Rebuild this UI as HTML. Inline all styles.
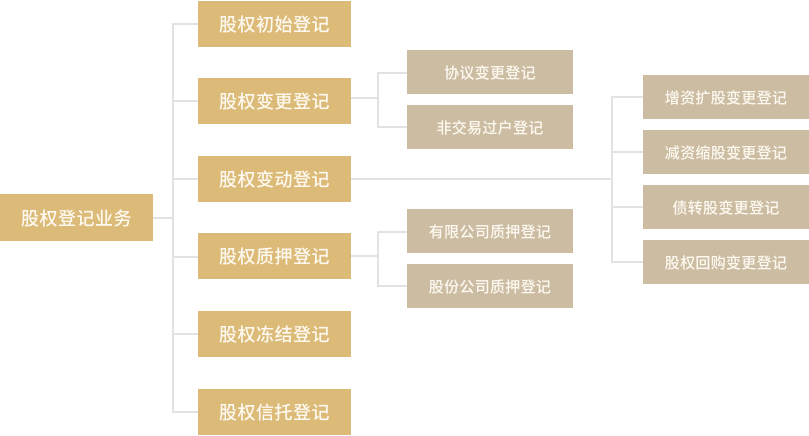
<!DOCTYPE html>
<html><head><meta charset="utf-8"><style>
body{margin:0;width:809px;height:436px;background:#fff;position:relative;overflow:hidden;font-family:"Liberation Sans","Noto Sans CJK SC",sans-serif}
.b{position:absolute;display:flex;align-items:center;justify-content:center;color:#fdf9f0;font-weight:500}
.g{background:#dcba77;font-size:18px;letter-spacing:0.5px}
.t{background:#cbbca2;font-size:15px;letter-spacing:0.3px}
.l{position:absolute;background:#e2e2e2}
</style></head><body>
<div class="l" style="left:40px;top:217px;width:133px;height:2px"></div>
<div class="l" style="left:172px;top:24px;width:2px;height:389px"></div>
<div class="l" style="left:172px;top:23px;width:26px;height:2px"></div>
<div class="l" style="left:172px;top:100px;width:26px;height:2px"></div>
<div class="l" style="left:172px;top:178px;width:26px;height:2px"></div>
<div class="l" style="left:172px;top:256px;width:26px;height:2px"></div>
<div class="l" style="left:172px;top:333px;width:26px;height:2px"></div>
<div class="l" style="left:172px;top:411px;width:26px;height:2px"></div>

<div class="l" style="left:351px;top:97px;width:27px;height:2px"></div>
<div class="l" style="left:377px;top:72px;width:2px;height:56px"></div>
<div class="l" style="left:377px;top:72px;width:31px;height:2px"></div>
<div class="l" style="left:377px;top:126px;width:31px;height:2px"></div>

<div class="l" style="left:351px;top:255px;width:27px;height:2px"></div>
<div class="l" style="left:377px;top:231px;width:2px;height:56px"></div>
<div class="l" style="left:377px;top:231px;width:31px;height:2px"></div>
<div class="l" style="left:377px;top:285px;width:31px;height:2px"></div>

<div class="l" style="left:340px;top:178px;width:273px;height:2px"></div>
<div class="l" style="left:611px;top:96px;width:2px;height:167px"></div>
<div class="l" style="left:611px;top:96px;width:32px;height:2px"></div>
<div class="l" style="left:611px;top:151px;width:32px;height:2px"></div>
<div class="l" style="left:611px;top:206px;width:32px;height:2px"></div>
<div class="l" style="left:611px;top:261px;width:32px;height:2px"></div>

<div class="b g" style="left:0;top:194px;width:153px;height:47px">股权登记业务</div>
<div class="b g" style="left:198px;top:1px;width:153px;height:46px">股权初始登记</div>
<div class="b g" style="left:198px;top:78px;width:153px;height:46px">股权变更登记</div>
<div class="b g" style="left:198px;top:156px;width:153px;height:46px">股权变动登记</div>
<div class="b g" style="left:198px;top:233px;width:153px;height:46px">股权质押登记</div>
<div class="b g" style="left:198px;top:311px;width:153px;height:46px">股权冻结登记</div>
<div class="b g" style="left:198px;top:389px;width:153px;height:46px">股权信托登记</div>

<div class="b t" style="left:407px;top:50px;width:166px;height:44px">协议变更登记</div>
<div class="b t" style="left:407px;top:105px;width:166px;height:44px">非交易过户登记</div>
<div class="b t" style="left:407px;top:209px;width:166px;height:44px">有限公司质押登记</div>
<div class="b t" style="left:407px;top:264px;width:166px;height:44px">股份公司质押登记</div>

<div class="b t" style="left:643px;top:75px;width:166px;height:44px">增资扩股变更登记</div>
<div class="b t" style="left:643px;top:130px;width:166px;height:44px">减资缩股变更登记</div>
<div class="b t" style="left:643px;top:185px;width:166px;height:44px">债转股变更登记</div>
<div class="b t" style="left:643px;top:240px;width:166px;height:44px">股权回购变更登记</div>
</body></html>
